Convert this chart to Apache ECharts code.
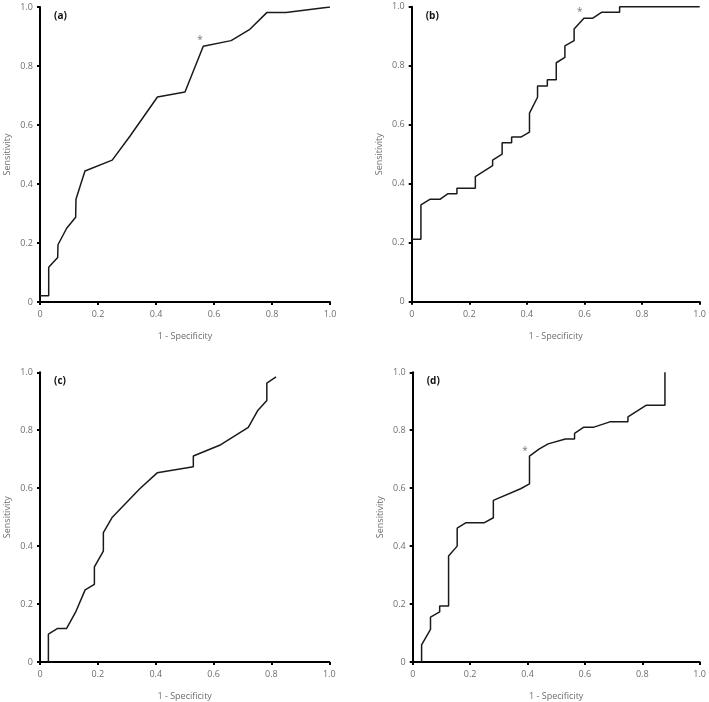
<!DOCTYPE html>
<html>
<head>
<meta charset="utf-8">
<script src="https://cdn.jsdelivr.net/npm/echarts@6/dist/echarts.min.js"></script>
<style>html,body{margin:0;padding:0;background:#fff}#c{width:709px;height:702px}</style>
</head>
<body>
<div id="c"></div>
<script>
// Tick labels shared by all axes
const tickLabels = ['0', '0.2', '0.4', '0.6', '0.8', '1.0'];
const panelLabels = ['(a)', '(b)', '(c)', '(d)'];
const xName = '1 - Specificity';
const yName = 'Sensitivity';

// ROC curve points [1 - specificity, sensitivity]
const curveA = [[0,0.021],[0.030,0.021],[0.030,0.118],[0.061,0.151],[0.062,0.194],[0.092,0.250],[0.123,0.287],[0.124,0.348],[0.155,0.444],[0.249,0.481],[0.310,0.562],[0.405,0.695],[0.500,0.712],[0.563,0.867],[0.659,0.886],[0.722,0.923],[0.782,0.981],[0.848,0.981],[1.0,1.0]];
const curveB = [[0,0.212],[0.032,0.212],[0.032,0.328],[0.063,0.347],[0.098,0.347],[0.126,0.366],[0.157,0.366],[0.157,0.385],[0.221,0.385],[0.221,0.424],[0.281,0.461],[0.281,0.480],[0.314,0.500],[0.314,0.539],[0.347,0.539],[0.347,0.558],[0.379,0.558],[0.409,0.575],[0.409,0.639],[0.437,0.693],[0.437,0.731],[0.471,0.731],[0.471,0.752],[0.502,0.752],[0.502,0.810],[0.532,0.828],[0.532,0.867],[0.564,0.885],[0.564,0.924],[0.598,0.961],[0.629,0.961],[0.659,0.981],[0.722,0.981],[0.722,1.0],[1.0,1.0]];
const curveC = [[0.029,0],[0.029,0.096],[0.061,0.116],[0.092,0.116],[0.123,0.172],[0.156,0.249],[0.188,0.268],[0.188,0.328],[0.219,0.383],[0.219,0.447],[0.250,0.500],[0.344,0.597],[0.405,0.653],[0.530,0.674],[0.530,0.711],[0.625,0.750],[0.720,0.810],[0.752,0.867],[0.784,0.903],[0.784,0.963],[0.816,0.984]];
const curveD = [[0.031,0],[0.031,0.059],[0.062,0.113],[0.062,0.155],[0.094,0.173],[0.094,0.193],[0.125,0.193],[0.125,0.366],[0.155,0.400],[0.155,0.462],[0.186,0.481],[0.250,0.481],[0.281,0.498],[0.281,0.558],[0.376,0.598],[0.407,0.615],[0.407,0.711],[0.440,0.735],[0.472,0.753],[0.532,0.770],[0.564,0.770],[0.564,0.789],[0.595,0.810],[0.629,0.810],[0.687,0.829],[0.750,0.829],[0.750,0.846],[0.813,0.886],[0.879,0.886],[0.879,1.0]];
// Asterisk markers (optimal cut-off)
const starA = [[0.552,0.888]];
const starB = [[0.584,0.981]];
const starC = [];
const starD = [[0.391,0.727]];

const curves = [curveA, curveB, curveC, curveD];
const stars = [starA, starB, starC, starD];
const grids = [
  {left: 40, top: 7, width: 290, height: 295},
  {left: 411.7, top: 6.7, width: 290, height: 295},
  {left: 40, top: 372.3, width: 289.3, height: 294.4},
  {left: 412.7, top: 372.3, width: 289.7, height: 294.4}
];
const fontFam = '"Open Sans", "Noto Sans", sans-serif';
const labelColor = '#6e6e6e';
const fmt = v => tickLabels[Math.round(v * 5)] !== undefined ? tickLabels[Math.round(v * 5)] : String(v);

const axisCommon = {
  type: 'value', min: 0, max: 1, interval: 0.2,
  splitLine: {show: false},
  axisLine: {show: true, onZero: false, lineStyle: {color: '#000', width: 2}},
  axisTick: {show: true, inside: false, length: 3, lineStyle: {color: '#000', width: 2}},
  axisLabel: {formatter: fmt, color: labelColor, fontSize: 9, fontFamily: fontFam},
  nameTextStyle: {color: labelColor, fontSize: 9, fontFamily: fontFam},
  nameLocation: 'middle'
};

const option = {
  animation: false,
  backgroundColor: '#fff',
  title: grids.map((g, i) => ({
    text: panelLabels[i], left: g.left + 14, top: g.top + 4, padding: 0,
    textStyle: {fontSize: 10, fontWeight: 'bold', color: '#111', fontFamily: fontFam}
  })),
  grid: grids.map(g => Object.assign({containLabel: false}, g)),
  xAxis: grids.map((g, i) => Object.assign({}, axisCommon, {
    gridIndex: i, name: xName, nameGap: 30,
    axisLabel: Object.assign({}, axisCommon.axisLabel, {margin: 8})
  })),
  yAxis: grids.map((g, i) => Object.assign({}, axisCommon, {
    gridIndex: i, name: yName, nameGap: 28,
    axisLabel: Object.assign({}, axisCommon.axisLabel, {margin: 7})
  })),
  series: []
};
curves.forEach((c, i) => {
  option.series.push({
    type: 'line', xAxisIndex: i, yAxisIndex: i, data: c,
    showSymbol: false, symbol: 'none',
    lineStyle: {color: '#1a1a1a', width: 1.5}
  });
  option.series.push({
    type: 'scatter', xAxisIndex: i, yAxisIndex: i, data: stars[i],
    symbolSize: 1, itemStyle: {color: 'rgba(0,0,0,0)'},
    label: {show: true, formatter: '*', position: 'inside', color: '#555', fontSize: 10, fontFamily: fontFam}
  });
});
const chart = echarts.init(document.getElementById('c'), null, {renderer: 'canvas'});
chart.setOption(option);
</script>
</body>
</html>
